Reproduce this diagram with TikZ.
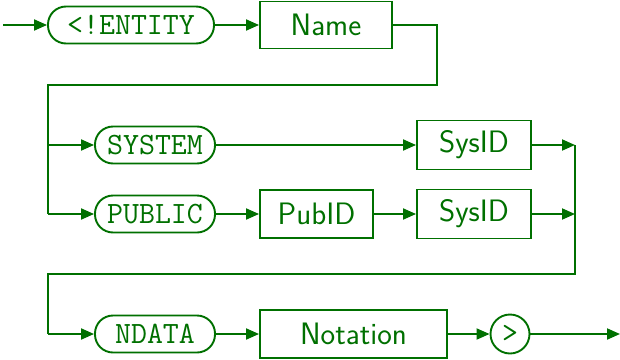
\documentclass[tikz,border=0pt]{standalone}
\usetikzlibrary{arrows.meta}
\definecolor{dg}{RGB}{0,112,0}
\begin{document}
\begin{tikzpicture}[x=1pt,y=-1pt,
  conn/.style={draw=dg,line width=1.9pt},
  arr/.style={conn,-{Triangle[length=13pt,width=11pt]}},
  pill/.style={draw=dg,text=dg,line width=1.9pt,rectangle,rounded corners=18pt,minimum height=37pt,inner sep=0pt,font=\fontsize{31}{36}\selectfont\ttfamily},
  box/.style={draw=dg,text=dg,line width=1.9pt,rectangle,minimum height=48pt,inner sep=0pt,font=\fontsize{31}{36}\selectfont\sffamily},
  term/.style={draw=dg,text=dg,line width=1.9pt,circle,minimum size=39pt,inner sep=0pt,font=\fontsize{31}{36}\selectfont\ttfamily}]
\useasboundingbox (0,0) rectangle (620,359);
% nodes
\coordinate (start) at (3,25);
\node[pill,minimum width=166pt] (ent) at (131,25) {<!ENTITY};
\node[box,minimum width=132pt,minimum height=47pt] (name) at (326,25) {Name};
\coordinate (r1) at (437,25);
\coordinate (r2) at (437,85);
\coordinate (l1) at (48,85);
\coordinate (fs) at (48,145);
\coordinate (fp) at (48,214);
\node[pill,minimum width=120pt] (sys) at (155,145) {SYSTEM};
\node[pill,minimum width=120pt] (pub) at (155,214) {PUBLIC};
\node[box,minimum width=113pt] (pubid) at (316.5,214) {PubID};
\node[box,minimum width=114pt,minimum height=49pt] (sysid1) at (474,145) {SysID};
\node[box,minimum width=114pt,minimum height=49pt] (sysid2) at (474,214) {SysID};
\coordinate (j1) at (575,145);
\coordinate (j2) at (575,214);
\coordinate (j3) at (575,274);
\coordinate (l2) at (48,274);
\coordinate (fn) at (48,334);
\node[pill,minimum width=120pt] (ndata) at (155,334) {NDATA};
\node[box,minimum width=187pt] (notation) at (353.5,334) {Notation};
\node[term] (gt) at (510,334) {>};
\coordinate (end) at (620,334);
% connectors
\draw[arr] (start) -- (ent);
\draw[arr] (ent) -- (name);
\draw[conn] (name.east) -- (r1) -- (r2) -- (l1) -- (fp);
\draw[arr] (fs) -- (sys);
\draw[arr] (fp) -- (pub);
\draw[arr] (sys) -- (sysid1);
\draw[arr] (pub) -- (pubid);
\draw[arr] (pubid) -- (sysid2);
\draw[arr] (sysid1) -- (j1);
\draw[arr] (sysid2) -- (j2);
\draw[conn] (j1) -- (j3) -- (l2) -- (fn);
\draw[arr] (fn) -- (ndata);
\draw[arr] (ndata) -- (notation);
\draw[arr] (notation) -- (gt);
\draw[arr] (gt) -- (end);
\end{tikzpicture}
\end{document}
